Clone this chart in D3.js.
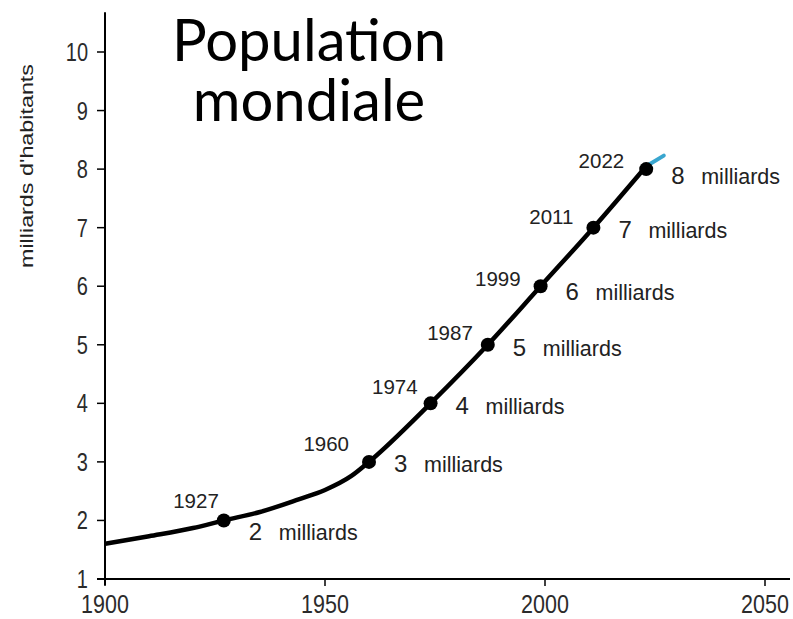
<!doctype html>
<html>
<head>
<meta charset="utf-8">
<title>Population mondiale</title>
<script src="https://cdnjs.cloudflare.com/ajax/libs/d3/7.8.5/d3.min.js"></script>
<style>
  body { margin: 0; background: #fff; }
  svg { display: block; }
</style>
</head>
<body>
<div id="chart"></div>
<script>
// milestones (billions of people)
const milestoneYears = ['1927', '1960', '1974', '1987', '1999', '2011', '2022'];
const milestoneValues = [2, 3, 4, 5, 6, 7, 8];
// where the dots sit along the time axis in the picture
const milestoneX = [1927, 1960, 1974, 1987, 1999, 2011, 2023];

// the population curve
const curveYears = [1900, 1910, 1920, 1927, 1935, 1944, 1950, 1956, 1960, 1974, 1987, 1999, 2011, 2023];
const curveValues = [1.6, 1.73, 1.87, 2.0, 2.14, 2.36, 2.52, 2.76, 3.0, 4.0, 5.0, 6.0, 7.0, 8.05];
// little blue tip at the end of the curve
const tipYears = [2023, 2027];
const tipValues = [8.05, 8.23];

const xTicks = [1900, 1950, 2000, 2050];
const yTicks = [1, 2, 3, 4, 5, 6, 7, 8, 9, 10];

const width = 793, height = 619;

const svg = d3.select('#chart')
  .append('svg')
  .attr('width', width)
  .attr('height', height);

const x = d3.scaleLinear().domain([1900, 2050]).range([105, 765]);
const y = d3.scaleLinear().domain([1, 10]).range([579, 52]);

// axes lines
svg.append('line')
  .attr('x1', x(1900)).attr('x2', x(1900))
  .attr('y1', y(10.68)).attr('y2', y(1) + 6)
  .attr('stroke', '#000').attr('stroke-width', 2);
svg.append('line')
  .attr('x1', x(1900) - 8).attr('x2', width - 3)
  .attr('y1', y(1)).attr('y2', y(1))
  .attr('stroke', '#000').attr('stroke-width', 2);

// tick marks
svg.selectAll('.ytick')
  .data(yTicks)
  .join('line')
  .attr('class', 'ytick')
  .attr('x1', x(1900) - 8).attr('x2', x(1900))
  .attr('y1', d => y(d)).attr('y2', d => y(d))
  .attr('stroke', '#000').attr('stroke-width', 1.5);
svg.selectAll('.xtick')
  .data(xTicks)
  .join('line')
  .attr('class', 'xtick')
  .attr('x1', d => x(d)).attr('x2', d => x(d))
  .attr('y1', y(1)).attr('y2', y(1) + 7)
  .attr('stroke', '#000').attr('stroke-width', 1.5);

// tick labels (the source picture is slightly stretched vertically)
svg.selectAll('.ylab')
  .data(yTicks)
  .join('text')
  .attr('class', 'ylab')
  .attr('transform', d => `translate(88,${y(d)}) scale(1,1.25)`)
  .attr('text-anchor', 'end')
  .attr('dy', '0.36em')
  .style('font-family', 'Liberation Sans, Arial, sans-serif')
  .style('font-size', '20px')
  .style('fill', '#2b2b2b')
  .text(d => d);

svg.selectAll('.xlab')
  .data(xTicks)
  .join('text')
  .attr('class', 'xlab')
  .attr('transform', d => `translate(${x(d)},${y(1) + 34}) scale(1,1.2)`)
  .attr('text-anchor', 'middle')
  .style('font-family', 'Liberation Sans, Arial, sans-serif')
  .style('font-size', '21.5px')
  .style('fill', '#2b2b2b')
  .text(d => d);

// y axis title
svg.append('text')
  .attr('transform', 'translate(33,166) rotate(-90)')
  .attr('text-anchor', 'middle')
  .attr('textLength', 204)
  .attr('lengthAdjust', 'spacingAndGlyphs')
  .style('font-family', 'Liberation Sans, Arial, sans-serif')
  .style('font-size', '18px')
  .style('fill', '#222')
  .text("milliards d'habitants");

// curve
const line = d3.line()
  .x(d => x(d[0]))
  .y(d => y(d[1]))
  .curve(d3.curveMonotoneX);

svg.append('path')
  .datum(d3.zip(tipYears, tipValues))
  .attr('d', line)
  .attr('fill', 'none')
  .attr('stroke', '#3aa6cf')
  .attr('stroke-width', 4)
  .attr('stroke-linecap', 'round');

svg.append('path')
  .datum(d3.zip(curveYears, curveValues))
  .attr('d', line)
  .attr('fill', 'none')
  .attr('stroke', '#000')
  .attr('stroke-width', 4.5);

// dots
svg.selectAll('.dot')
  .data(d3.zip(milestoneX, milestoneValues))
  .join('circle')
  .attr('class', 'dot')
  .attr('cx', d => x(d[0]))
  .attr('cy', d => y(d[1]))
  .attr('r', 7)
  .attr('fill', '#000');

// year labels, nudged like in the picture
const yearNudge = [[-5, -12], [-20, -11], [-13, -9], [-15, -5], [-20, 0], [-20, -4], [-22, -1]];
svg.selectAll('.year')
  .data(milestoneYears)
  .join('text')
  .attr('class', 'year')
  .attr('x', (d, i) => x(milestoneX[i]) + yearNudge[i][0])
  .attr('y', (d, i) => y(milestoneValues[i]) + yearNudge[i][1])
  .attr('text-anchor', 'end')
  .style('font-family', 'Liberation Sans, Arial, sans-serif')
  .style('font-size', '20.5px')
  .style('fill', '#222')
  .text(d => d);

// "N milliards" labels
const valueDy = [20, 10, 11, 11, 14, 10, 15];
const valueLabels = svg.selectAll('.val')
  .data(milestoneValues)
  .join('g')
  .attr('class', 'val')
  .attr('transform', (d, i) => `translate(${x(milestoneX[i]) + 25},${y(d) + valueDy[i]})`)
  .style('font-family', 'Liberation Sans, Arial, sans-serif')
  .style('fill', '#222');

valueLabels.append('text')
  .style('font-size', '24px')
  .text(d => d);
valueLabels.append('text')
  .attr('x', 30)
  .style('font-size', '21.5px')
  .text('milliards');

// title
svg.append('text')
  .attr('x', 309)
  .attr('y', 61)
  .attr('text-anchor', 'middle')
  .style('font-family', 'Lato, sans-serif')
  .style('font-size', '58px')
  .style('fill', '#000')
  .selectAll('tspan')
  .data(['Population', 'mondiale'])
  .join('tspan')
  .attr('x', 309)
  .attr('dy', (d, i) => i ? 60 : 0)
  .text(d => d);
</script>
</body>
</html>
